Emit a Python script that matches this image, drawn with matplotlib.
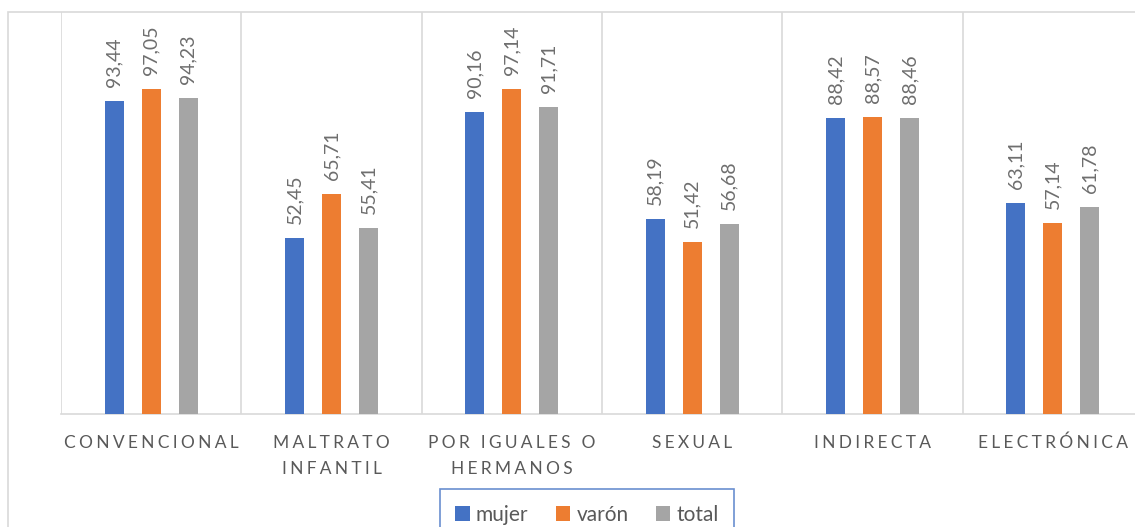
import matplotlib
matplotlib.use("Agg")
import matplotlib.pyplot as plt
import numpy as np
from matplotlib.patches import Rectangle

categories = ["CONVENCIONAL", "MALTRATO\nINFANTIL", "POR IGUALES O\nHERMANOS", "SEXUAL", "INDIRECTA", "ELECTRÓNICA"]
series_names = ["mujer", "varón", "total"]
mujer = [93.44, 52.45, 90.16, 58.19, 88.42, 63.11]
varon = [97.05, 65.71, 97.14, 51.42, 88.57, 57.14]
total = [94.23, 55.41, 91.71, 56.68, 88.46, 61.78]
colors = ["#4472C4", "#ED7D31", "#A5A5A5"]

plt.rcParams['font.family'] = ['Lato', 'DejaVu Sans']

def spaced(s, sep="\u2009\u200a"):
    return "\n".join(sep.join(list(line)) for line in s.split("\n"))

fig = plt.figure(figsize=(11.35, 5.27), dpi=100)
W, H = 1135, 527
# outer chart border
fig.patches.append(Rectangle((8 / W, -0.05), 1.2, (527 - 12) / H + 0.05, transform=fig.transFigure,
                             fill=False, edgecolor="#D9D9D9", linewidth=1.2))

ax = fig.add_axes([61 / W, 1 - 414 / H, (1143 - 61) / W, (414 - 12) / H])
n = len(categories)
x = np.arange(n)
bw = 0.105
offs = [-0.205, 0.0, 0.205]
for vals, c, o, name in zip([mujer, varon, total], colors, offs, series_names):
    bars = ax.bar(x + o, vals, width=bw, color=c, label=name, zorder=3)
    for xi, v in zip(x + o, vals):
        ax.annotate(f"{v:.2f}".replace(".", ","), (xi, v), xytext=(0, 10), textcoords="offset points",
                    rotation=90, ha="center", va="bottom", fontsize=14, color="#6E6E6E")

ax.set_xlim(-0.5, n - 0.5)
ax.set_ylim(0, 120)
for b in np.arange(-0.5, n, 1.0):
    ax.axvline(b, color="#D9D9D9", linewidth=1.2, zorder=1)
for s in ["top", "right", "left"]:
    ax.spines[s].set_visible(False)
ax.spines["bottom"].set_color("#D9D9D9")
ax.spines["bottom"].set_linewidth(1.2)
ax.set_yticks([])
ax.set_xticks(x)
ax.set_xticklabels([spaced(c) for c in categories], fontsize=12.5, color="#595959", linespacing=1.75)
ax.tick_params(axis="x", length=0, pad=15)

leg = fig.legend(loc="upper center", bbox_to_anchor=(587 / W, 1 - 489 / H), ncol=3, frameon=True, fancybox=False,
                 fontsize=15, handlelength=0.7, handleheight=0.7, handletextpad=0.3, columnspacing=1.3,
                 borderpad=0.75, borderaxespad=0)
leg.get_frame().set_edgecolor("#4472C4")
leg.get_frame().set_linewidth(1.2)
for t in leg.get_texts():
    t.set_color("#595959")

fig.savefig("out.png", dpi=100)
